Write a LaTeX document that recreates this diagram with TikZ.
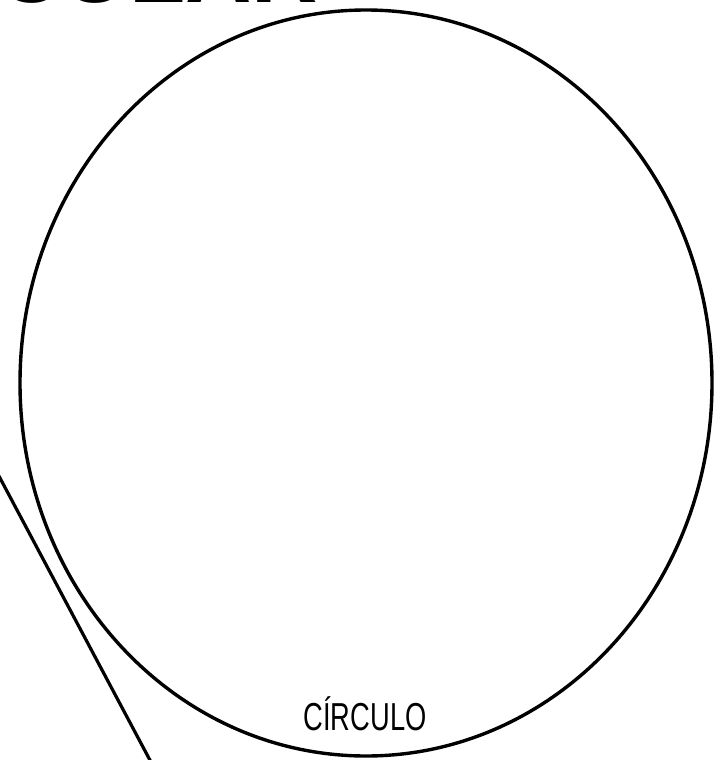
\documentclass[tikz,border=0pt]{standalone}
\usepackage{fontspec}
\setmainfont{Liberation Sans}
\usetikzlibrary{shapes.geometric}
\begin{document}
\begin{tikzpicture}[x=1pt,y=-1pt,
  outline/.style={draw=black,line width=3.4pt},
  ptr/.style={draw=black,line width=3.2pt},
  lbl/.style={inner sep=0pt,font=\fontsize{39}{39}\selectfont,xscale=0.7},
  title/.style={inner sep=0pt,anchor=base west,font=\bfseries\fontsize{92}{92}\selectfont,text=black}]
\useasboundingbox (0,0) rectangle (721,760);
\node[title] (ttl) at (-4,3) {CULAR};
\node[outline,ellipse,inner sep=0pt,minimum width=692pt,minimum height=746pt] (circ) at (366,383) {};
\node[lbl] (name) at (365,714) {CÍRCULO};
\coordinate (p1) at (-4,470.5);
\coordinate (p2) at (152,764);
\draw[ptr] (p1) -- (p2);
\end{tikzpicture}
\end{document}
